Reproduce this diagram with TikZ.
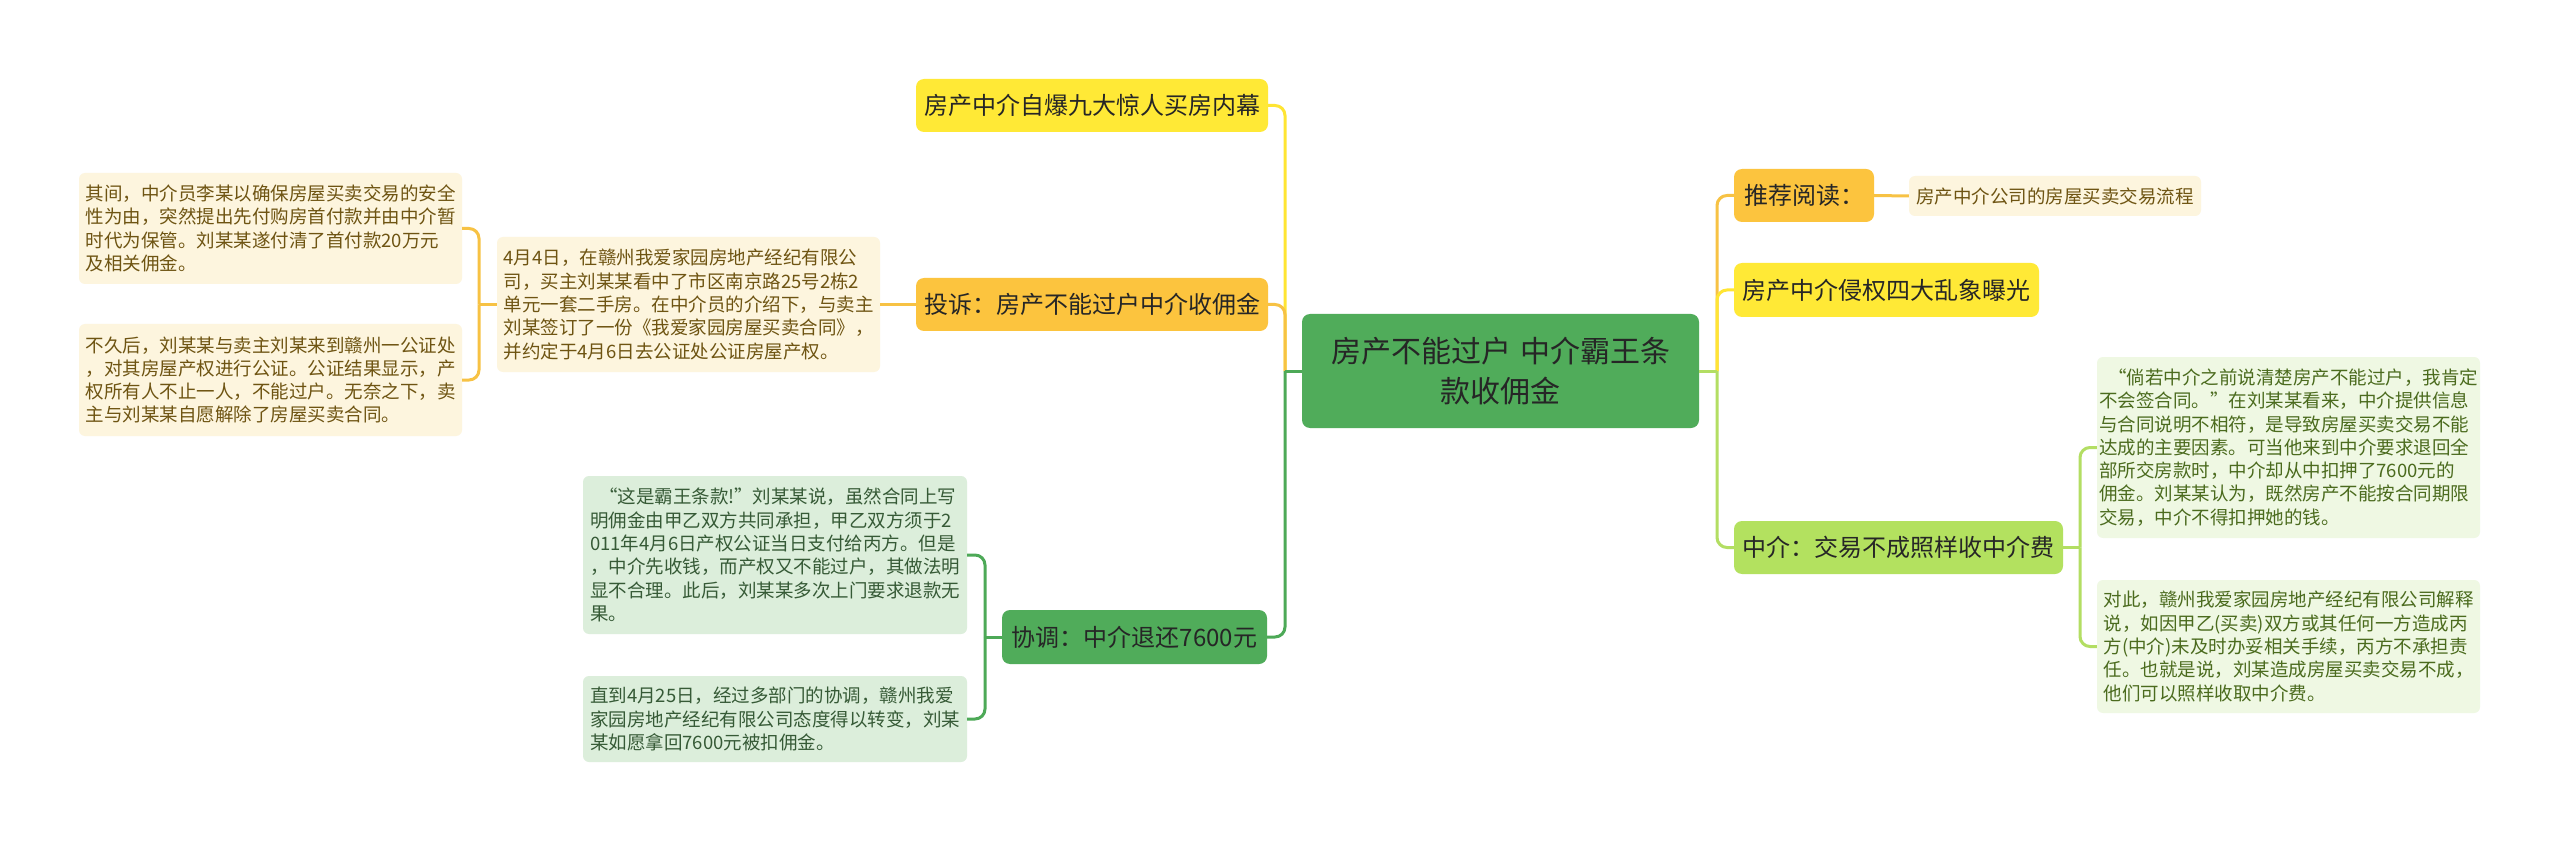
\documentclass[tikz,border=0pt]{standalone}
\usepackage{fontspec}
\setmainfont{Noto Sans CJK SC}
\definecolor{cGreen}{HTML}{50AC5A}
\definecolor{cYellow}{HTML}{FFE936}
\definecolor{cOrange}{HTML}{FCC43E}
\definecolor{cLime}{HTML}{B3E15F}
\definecolor{cCream}{HTML}{FDF5DE}
\definecolor{cPaleGreen}{HTML}{DCEEDB}
\definecolor{cPaleLime}{HTML}{EFF8E3}
\definecolor{lYellow}{HTML}{FFE533}
\definecolor{lOrange}{HTML}{F7C244}
\definecolor{lGreen}{HTML}{4DA957}
\definecolor{lLime}{HTML}{B3DE63}
\definecolor{tBrown}{HTML}{6E5412}
\definecolor{tDkGreen}{HTML}{365A36}
\definecolor{tOlive}{HTML}{4B6B1E}
\definecolor{tMain}{HTML}{262626}
\begin{document}
\begin{tikzpicture}[x=1pt,y=-1pt,
  topic/.style={rounded corners=8pt, inner sep=0pt, align=center, text=tMain,
    font=\fontsize{24pt}{30pt}\selectfont},
  note/.style={rounded corners=6pt, inner sep=0pt, align=left,
    font=\fontsize{18.5pt}{23.3pt}\selectfont},
  link/.style={line width=3pt},
  elbow/.style={line width=3pt, rounded corners=10pt}]
\fill[white] (0,0) rectangle (2560,842);
\useasboundingbox (0,0) rectangle (2560,842);

% central
\node[topic, fill=cGreen, minimum width=397pt, minimum height=114pt,
  font=\fontsize{30pt}{40pt}\selectfont] (c) at (1500.5,371)
  {房产不能过户\hspace{0.3em}中介霸王条\\款收佣金};

% left main topics
\node[topic, fill=cYellow, minimum width=352pt, minimum height=53pt] (top) at (1092,105.5) {房产中介自爆九大惊人买房内幕};
\node[topic, fill=cOrange, minimum width=352pt, minimum height=53pt] (ts) at (1092,304.5) {投诉：房产不能过户中介收佣金};
\node[topic, fill=cGreen, minimum width=265pt, minimum height=54pt] (xt) at (1134.5,637) {协调：中介退还7600元};

% right main topics
\node[topic, fill=cOrange, minimum width=140pt, minimum height=53pt] (tj) at (1804,195.5) {推荐阅读：};
\node[topic, fill=cYellow, minimum width=305pt, minimum height=54pt] (qq) at (1886.5,290) {房产中介侵权四大乱象曝光};
\node[topic, fill=cLime, minimum width=329pt, minimum height=53pt] (zj) at (1898.5,547.5) {中介：交易不成照样收中介费};

% detail notes
\node[note, fill=cCream, text=tBrown, minimum width=383pt, minimum height=135pt] (d44) at (688.5,304.5)
  {4月4日，在赣州我爱家园房地产经纪有限公\\司，买主刘某某看中了市区南京路25号2栋2\\单元一套二手房。在中介员的介绍下，与卖主\\刘某签订了一份《我爱家园房屋买卖合同》，\\并约定于4月6日去公证处公证房屋产权。};
\node[note, fill=cCream, text=tBrown, minimum width=383pt, minimum height=111pt] (lc1) at (270.5,228.5)
  {其间，中介员李某以确保房屋买卖交易的安全\\性为由，突然提出先付购房首付款并由中介暂\\时代为保管。刘某某遂付清了首付款20万元\\及相关佣金。};
\node[note, fill=cCream, text=tBrown, minimum width=383pt, minimum height=112pt] (lc2) at (270.5,380)
  {不久后，刘某某与卖主刘某来到赣州一公证处\\，对其房屋产权进行公证。公证结果显示，产\\权所有人不止一人，不能过户。无奈之下，卖\\主与刘某某自愿解除了房屋买卖合同。};
\node[note, fill=cPaleGreen, text=tDkGreen, minimum width=384pt, minimum height=158pt] (gc1) at (775,555)
  {\hspace{9pt}“这是霸王条款!”刘某某说，虽然合同上写\\明佣金由甲乙双方共同承担，甲乙双方须于2\\011年4月6日产权公证当日支付给丙方。但是\\，中介先收钱，而产权又不能过户，其做法明\\显不合理。此后，刘某某多次上门要求退款无\\果。};
\node[note, fill=cPaleGreen, text=tDkGreen, minimum width=384pt, minimum height=86pt] (gc2) at (775,719)
  {直到4月25日，经过多部门的协调，赣州我爱\\家园房地产经纪有限公司态度得以转变，刘某\\某如愿拿回7600元被扣佣金。};
\node[note, fill=cCream, text=tBrown, minimum width=292pt, minimum height=40pt] (sub) at (2055,196)
  {房产中介公司的房屋买卖交易流程};
\node[note, fill=cPaleLime, text=tOlive, minimum width=383pt, minimum height=181pt] (rc1) at (2288.5,447.5)
  {\hspace{9pt}“倘若中介之前说清楚房产不能过户，我肯定\\不会签合同。”在刘某某看来，中介提供信息\\与合同说明不相符，是导致房屋买卖交易不能\\达成的主要因素。可当他来到中介要求退回全\\部所交房款时，中介却从中扣押了7600元的\\佣金。刘某某认为，既然房产不能按合同期限\\交易，中介不得扣押她的钱。};
\node[note, fill=cPaleLime, text=tOlive, minimum width=383pt, minimum height=133pt] (rc2) at (2288.5,646.5)
  {对此，赣州我爱家园房地产经纪有限公司解释\\说，如因甲乙(买卖)双方或其任何一方造成丙\\方(中介)未及时办妥相关手续，丙方不承担责\\任。也就是说，刘某造成房屋买卖交易不成，\\他们可以照样收取中介费。};

% junction points
\coordinate (tL) at (1285,371);
\coordinate (tR) at (1717,371);
\coordinate (bL) at (479,304.5);
\coordinate (bG) at (985,637);
\coordinate (bR) at (2080,547.5);

% left trunk
\draw[elbow, lYellow] (tL) |- (top.east);
\draw[elbow, lOrange] (tL) |- (ts.east);
\draw[elbow, lGreen] (tL) |- (xt.east);
\draw[link, lGreen] (c.west) -- (tL);

% right trunk
\draw[elbow, lOrange] (tR) |- (tj.west);
\draw[elbow, lYellow] (tR) |- (qq.west);
\draw[elbow, lLime] (tR) |- (zj.west);
\draw[link, lLime] (c.east) -- (tR);

% second level
\draw[link, lOrange] (ts.west) -- (d44.east);
\draw[link, lOrange] (d44.west) -- (bL);
\draw[elbow, lOrange] (bL) |- (lc1.east);
\draw[elbow, lOrange] (bL) |- (lc2.east);

\draw[link, lGreen] (xt.west) -- (bG);
\draw[elbow, lGreen] (bG) |- (gc1.east);
\draw[elbow, lGreen] (bG) |- (gc2.east);

\draw[link, lOrange] (tj.east) -- (sub.west);

\draw[link, lLime] (zj.east) -- (bR);
\draw[elbow, lLime] (bR) |- (rc1.west);
\draw[elbow, lLime] (bR) |- (rc2.west);
\end{tikzpicture}
\end{document}
